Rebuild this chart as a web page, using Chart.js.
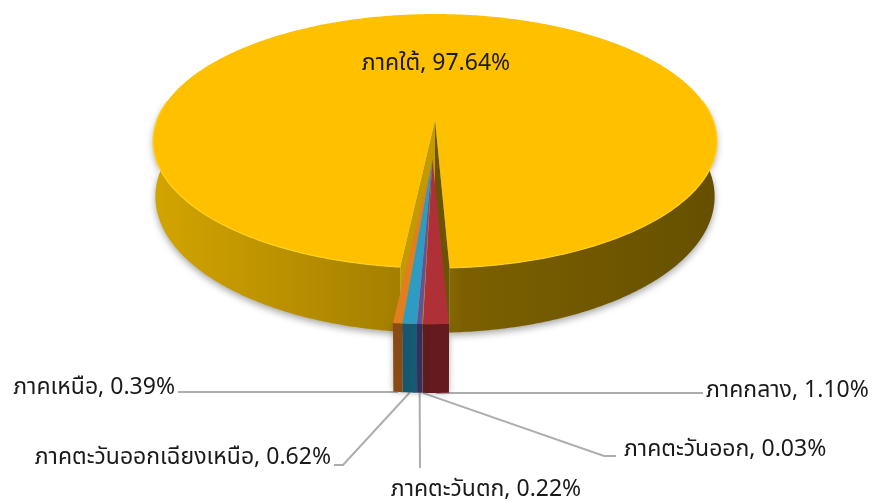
<!DOCTYPE html>
<html lang="th">
<head>
    <meta charset="UTF-8">
    <title>สัดส่วนรายภาค</title>
    <script src="https://cdn.jsdelivr.net/npm/chart.js@4/dist/chart.umd.min.js"></script>
    <style>
        html, body { margin: 0; padding: 0; background: #fff; }
        canvas { display: block; }
    </style>
</head>
<body>
<canvas id="pie_chart" width="872" height="501"></canvas>

<script>
    const categories = ['ภาคกลาง', 'ภาคตะวันออก', 'ภาคตะวันตก', 'ภาคตะวันออกเฉียงเหนือ', 'ภาคเหนือ', 'ภาคใต้'];
    const shares = [1.10, 0.03, 0.22, 0.62, 0.39, 97.64];

    const topColors = ['#B03038', '#A5A03A', '#6A4E9E', '#2E9CC2', '#E07F22', '#FFC000'];
    const sideColors = ['#641A1E', '#5F5C20', '#3B2C62', '#155A72', '#8A4A14', '#A88000'];
    const explode = [65, 65, 65, 65, 65, 0];

    // where each label sits and where its leader line bends
    const labelSpots = [
        { x: 706, y: 392, align: 'left', line: [[703, 393]] },
        { x: 624, y: 451, align: 'left', line: [[604, 456], [616, 456]] },
        { x: 486, y: 491, align: 'center', line: [[420, 468]] },
        { x: 331, y: 459, align: 'right', line: [[343, 465], [334, 465]] },
        { x: 175, y: 389, align: 'right', line: [[178, 392]] },
        { x: 436, y: 65, align: 'center', line: [] }
    ];

    // perspective of the pie plate
    const view = { cx: 435, cy: 120, a: 278, b: 123.5, p: 0.1655, depth: 54, shrink: 0.008 };
    const pieceSpread = 1.07; // the pulled out slices look a bit wider up close
    const labelFont = '23px Tahoma, "Noto Sans Thai", "Noto Sans", "DejaVu Sans", sans-serif';

    function project(u, v, z) {
        const w = 1 - view.p * v;
        return {
            x: view.cx + view.a * u / w * (1 - view.shrink * z),
            y: view.cy + view.b * v / w + view.depth * z / w
        };
    }

    function rimPoints(from, to, shiftU, shiftV, z) {
        const pts = [];
        const steps = Math.max(2, Math.ceil(Math.abs(to - from) / 0.01));
        for (let i = 0; i <= steps; i++) {
            const t = from + (to - from) * i / steps;
            pts.push(project(Math.cos(t) + shiftU, Math.sin(t) + shiftV, z));
        }
        return pts;
    }

    function fillShape(ctx, pts, fill) {
        ctx.beginPath();
        pts.forEach((p, i) => i ? ctx.lineTo(p.x, p.y) : ctx.moveTo(p.x, p.y));
        ctx.closePath();
        ctx.fillStyle = fill;
        ctx.fill();
    }

    const pie3d = {
        id: 'pie3d',
        beforeDatasetsDraw(chart) {
            const ctx = chart.ctx;
            const arcs = chart.getDatasetMeta(0).data;
            const main = arcs[arcs.length - 1];
            const pieces = arcs.slice(0, -1);

            // outer wall of the big slice
            const wall = ctx.createLinearGradient(view.cx - view.a, 0, view.cx + view.a, 0);
            wall.addColorStop(0, '#D2A400');
            wall.addColorStop(0.45, '#A37E00');
            wall.addColorStop(0.55, '#7C6000');
            wall.addColorStop(1, '#665000');

            const wallLeft = rimPoints(main.startAngle, Math.PI * 1.05, 0, 0, 0)
                .concat(rimPoints(Math.PI * 1.05, main.startAngle, 0, 0, 1));
            const wallRight = rimPoints(Math.PI * 1.95, main.endAngle, 0, 0, 0)
                .concat(rimPoints(main.endAngle, Math.PI * 1.95, 0, 0, 1));
            ctx.save();
            ctx.shadowColor = 'rgba(60,60,60,0.45)';
            ctx.shadowBlur = 7;
            ctx.shadowOffsetY = 3;
            fillShape(ctx, wallLeft, wall);
            fillShape(ctx, wallRight, wall);
            ctx.restore();

            // top of the big slice
            const centre = project(0, 0, 0);
            fillShape(ctx, [centre].concat(rimPoints(main.startAngle, main.endAngle, 0, 0, 0)), topColors[5]);

            // light rim along the front edge
            const edge = (angle, z) => project(Math.cos(angle), Math.sin(angle), z);
            ctx.beginPath();
            rimPoints(main.startAngle, Math.PI * 1.05, 0, 0, 0).forEach((p, i) => i ? ctx.lineTo(p.x, p.y) : ctx.moveTo(p.x, p.y));
            rimPoints(main.endAngle, Math.PI * 1.95, 0, 0, 0).forEach((p, i) => i ? ctx.lineTo(p.x, p.y) : ctx.moveTo(p.x, p.y));
            ctx.strokeStyle = '#FFD21F';
            ctx.lineWidth = 1.2;
            ctx.stroke();

            // inner walls of the notch, filled down to the base so no white shows behind the slices
            const midNotch = (edge(main.startAngle, 1).x + edge(main.endAngle, 1).x) / 2;
            const notchFoot = { x: midNotch, y: edge(main.startAngle, 1).y };
            fillShape(ctx, [centre, project(0, 0, 1), notchFoot, edge(main.startAngle, 1), edge(main.startAngle, 0)], '#C39A00');
            fillShape(ctx, [centre, project(0, 0, 1), notchFoot, edge(main.endAngle, 1), edge(main.endAngle, 0)], '#6B5300');

            // pulled out slices move together along their common middle
            const first = pieces[0].startAngle;
            const last = pieces[pieces.length - 1].endAngle;
            const mid = (first + last) / 2;
            const shift = pieces[0].options.offset / main.outerRadius;
            const du = Math.cos(mid) * shift;
            const dv = Math.sin(mid) * shift;
            const spread = angle => mid + (angle - mid) * pieceSpread;

            // leader lines
            ctx.strokeStyle = '#ADADAD';
            ctx.lineWidth = 2;
            pieces.forEach((arc, i) => {
                const a = spread((arc.startAngle + arc.endAngle) / 2);
                const from = project(Math.cos(a) + du, Math.sin(a) + dv, 1);
                ctx.beginPath();
                ctx.moveTo(from.x, from.y);
                labelSpots[i].line.forEach(p => ctx.lineTo(p[0], p[1]));
                ctx.stroke();
            });

            pieces.forEach((arc, i) => {
                const front = rimPoints(spread(arc.startAngle), spread(arc.endAngle), du, dv, 0);
                const base = rimPoints(spread(arc.endAngle), spread(arc.startAngle), du, dv, 1);
                ctx.save();
                ctx.shadowColor = 'rgba(60,60,60,0.4)';
                ctx.shadowBlur = 6;
                fillShape(ctx, front.concat(base), sideColors[i]);
                ctx.restore();
            });
            pieces.forEach((arc, i) => {
                const tip = project(du, dv, 0);
                fillShape(ctx, [tip].concat(rimPoints(spread(arc.startAngle), spread(arc.endAngle), du, dv, 0)), topColors[i]);
            });

            // labels
            ctx.font = labelFont;
            ctx.fillStyle = '#1A1A1A';
            ctx.textBaseline = 'middle';
            categories.forEach((name, i) => {
                const spot = labelSpots[i];
                ctx.textAlign = spot.align;
                ctx.fillText(name + ', ' + shares[i].toFixed(2) + '%', spot.x, spot.y);
            });
            return false;
        }
    };

    new Chart(document.getElementById('pie_chart'), {
        type: 'pie',
        data: {
            labels: categories,
            datasets: [{ data: shares, backgroundColor: topColors, offset: explode, borderWidth: 0 }]
        },
        options: {
            responsive: false,
            animation: false,
            rotation: 177.5,
            layout: { padding: 0 },
            plugins: { legend: { display: false }, tooltip: { enabled: false } }
        },
        plugins: [pie3d]
    });
</script>
</body>
</html>
